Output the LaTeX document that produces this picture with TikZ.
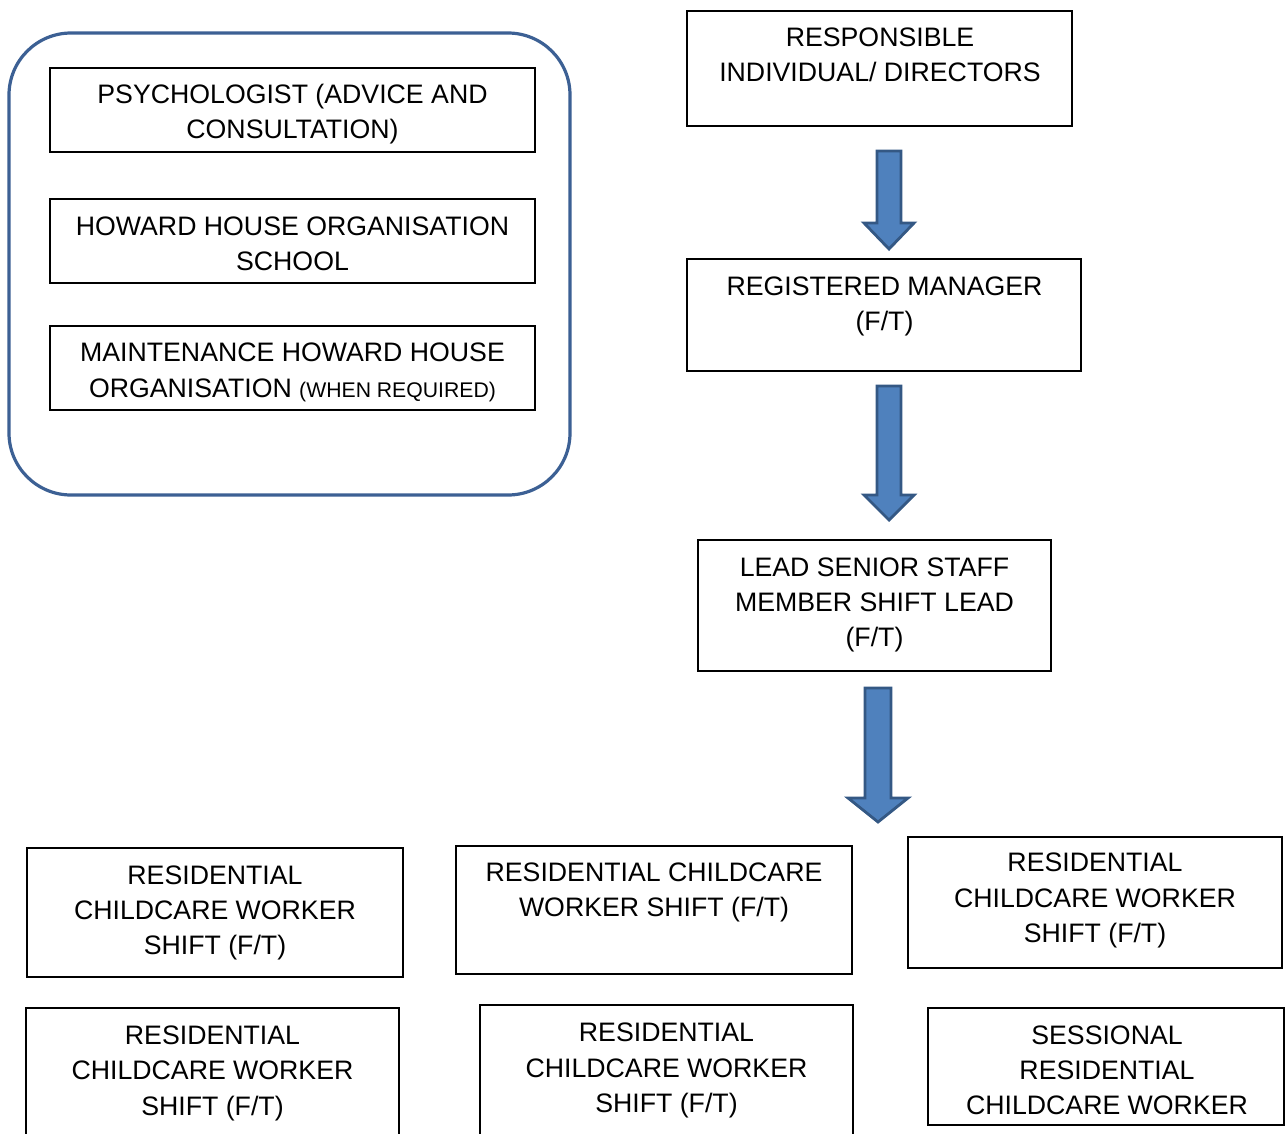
\documentclass[tikz,border=0pt]{standalone}
\usepackage{fontspec}
\setmainfont{Liberation Sans}
\usetikzlibrary{fit}
\definecolor{grpblue}{RGB}{60,96,148}
\definecolor{arrowfill}{RGB}{79,129,189}
\definecolor{arrowedge}{RGB}{52,88,132}
\newcommand\ph{\vphantom{(}}
\newcommand\barrow[6]{\draw[blockarrow] (#1-#5,#2) -- (#1+#5,#2) -- (#1+#5,#3) -- (#1+#6,#3) -- (#1,#4) -- (#1-#6,#3) -- (#1-#5,#3) -- cycle;}
\tikzset{
  box/.style={draw=black, line width=1.6pt, inner sep=0pt},
  container/.style={draw=grpblue, line width=3.2pt, inner sep=0pt, rounded corners=62pt},
  lbl/.style={align=center, inner sep=0pt, yshift=-2.6pt, font=\fontsize{26.7}{35.3}\selectfont},
  blockarrow/.style={fill=arrowfill, draw=arrowedge, line width=2.8pt, line join=miter},
}
\begin{document}
\begin{tikzpicture}[x=1pt,y=-1pt]
\useasboundingbox (0,0) rectangle (1285,1133);
\clip (0,0) rectangle (1285,1133);
% left group
\node[container, fit={(9,33) (570,495)}] (group) {};
\node[box, fit={(50,68) (535,152)}] (psy) {};
\node[lbl] (psyT) at (292.5,111.5) {\ph PSYCHOLOGIST (ADVICE AND\\CONSULTATION)\ph};
\node[box, fit={(50,199) (535,283)}] (school) {};
\node[lbl] (schoolT) at (292.5,243.5) {\ph HOWARD HOUSE ORGANISATION\\SCHOOL\ph};
\node[box, fit={(50,326) (535,410)}] (maint) {};
\node[lbl] (maintT) at (292.5,370) {\ph MAINTENANCE HOWARD HOUSE\\ORGANISATION {\fontsize{21.2}{24}\selectfont (WHEN REQUIRED)}\ph};
% right chain
\node[box, fit={(687,11) (1072,126)}] (resp) {};
\node[lbl] (respT) at (880,54.5) {\ph RESPONSIBLE\\INDIVIDUAL/ DIRECTORS\ph};
\node[box, fit={(687,259) (1081,371)}] (reg) {};
\node[lbl] (regT) at (884.5,303.5) {\ph REGISTERED MANAGER\\(F/T)};
\node[box, fit={(698,540) (1051,671)}] (lead) {};
\node[lbl] (leadT) at (874.5,602) {\ph LEAD SENIOR STAFF\\MEMBER SHIFT LEAD\\(F/T)};
% arrows
\barrow{889}{151}{223}{249}{12}{25}
\barrow{889}{386}{495}{520}{12}{25}
\barrow{878}{688}{798}{822}{13}{30}
% bottom rows
\node[box, fit={(27,848) (403,977)}] (w1) {};
\node[lbl] (w1T) at (215,910) {\ph RESIDENTIAL\\CHILDCARE WORKER\\SHIFT (F/T)};
\node[box, fit={(456,846) (852,974)}] (w2) {};
\node[lbl] (w2T) at (654,889.5) {\ph RESIDENTIAL CHILDCARE\\WORKER SHIFT (F/T)};
\node[box, fit={(908,837) (1282,968)}] (w3) {};
\node[lbl] (w3T) at (1095,897.7) {\ph RESIDENTIAL\\CHILDCARE WORKER\\SHIFT (F/T)};
\node[box, fit={(26,1008) (399,1160)}] (w4) {};
\node[lbl] (w4T) at (212.5,1070.3) {\ph RESIDENTIAL\\CHILDCARE WORKER\\SHIFT (F/T)};
\node[box, fit={(480,1005) (853,1160)}] (w5) {};
\node[lbl] (w5T) at (666.5,1067.7) {\ph RESIDENTIAL\\CHILDCARE WORKER\\SHIFT (F/T)};
\node[box, fit={(928,1008) (1284,1125)}] (w6) {};
\node[lbl] (w6T) at (1107,1070) {\ph SESSIONAL\\RESIDENTIAL\\CHILDCARE WORKER\ph};
\end{tikzpicture}
\end{document}
